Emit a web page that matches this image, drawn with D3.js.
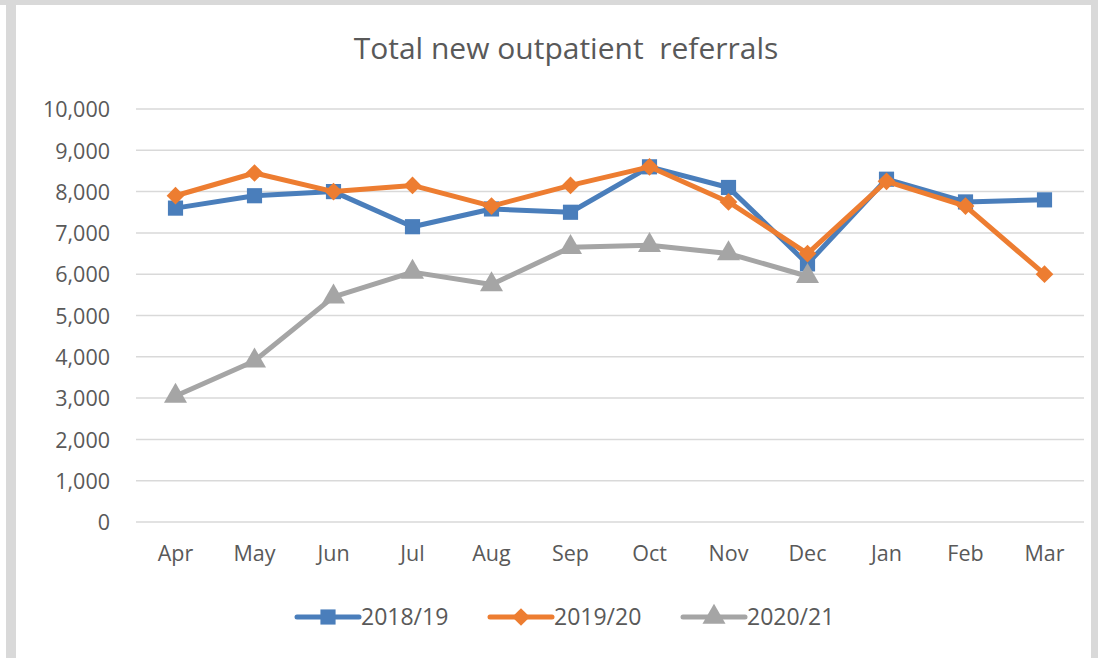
<!DOCTYPE html>
<html>
<head>
<meta charset="utf-8">
<script src="https://cdn.jsdelivr.net/npm/d3@7"></script>
<style>
  body { margin: 0; background: #fff; }
  text { font-family: "Open Sans", "Liberation Sans", sans-serif; fill: #595959; }
</style>
</head>
<body>
<div id="chart"></div>
<script>
//chart data
var months = ["Apr", "May", "Jun", "Jul", "Aug", "Sep", "Oct", "Nov", "Dec", "Jan", "Feb", "Mar"];
var seriesNames = ["2018/19", "2019/20", "2020/21"];
var values1819 = [7600, 7900, 8000, 7150, 7580, 7500, 8600, 8100, 6250, 8300, 7750, 7800];
var values1920 = [7900, 8450, 8000, 8150, 7650, 8150, 8600, 7750, 6500, 8250, 7650, 6000];
var values2021 = [3050, 3900, 5450, 6050, 5750, 6650, 6700, 6500, 5950, null, null, null];
var yTicks = [0, 1000, 2000, 3000, 4000, 5000, 6000, 7000, 8000, 9000, 10000];

var colors = ["#4a7ebb", "#ed7d31", "#a5a5a5"];
var symbols = [d3.symbolSquare, d3.symbolDiamond2, d3.symbolTriangle];
var symbolSizes = [230, 200, 230];

//svg size
var svgW = 1098;
var svgH = 658;

var margin = {top: 109, right: 14, bottom: 136, left: 136};
var width = svgW - margin.left - margin.right;
var height = svgH - margin.top - margin.bottom;

var svg = d3.select("#chart").append("svg")
    .attr("width", svgW)
    .attr("height", svgH);

//outer frame
svg.append("rect").attr("x", 0).attr("y", 0).attr("width", svgW).attr("height", 5).attr("fill", "#d9d9d9");
svg.append("rect").attr("x", 6).attr("y", 0).attr("width", 10).attr("height", svgH).attr("fill", "#d9d9d9");
svg.append("rect").attr("x", 1091).attr("y", 0).attr("width", 7).attr("height", svgH).attr("fill", "#d9d9d9");

//title
svg.append("text")
    .attr("x", 566)
    .attr("y", 59)
    .attr("text-anchor", "middle")
    .attr("font-size", "30px")
    .style("white-space", "pre")
    .text("Total new outpatient  referrals");

var chartGroup = svg.append("g")
    .attr("transform", `translate(${margin.left}, ${margin.top})`);

//scales
var xScale = d3.scaleBand()
    .domain(months)
    .range([0, width]);

var yScale = d3.scaleLinear()
    .domain([0, 10000])
    .range([height, 0]);

//gridlines
chartGroup.append("g")
    .selectAll("line")
    .data(yTicks)
    .enter()
    .append("line")
    .attr("x1", 0)
    .attr("x2", width)
    .attr("y1", d => yScale(d))
    .attr("y2", d => yScale(d))
    .attr("stroke", "#d9d9d9")
    .attr("stroke-width", 1.5);

//y axis
var leftAxis = d3.axisLeft(yScale)
    .tickValues(yTicks)
    .tickFormat(d3.format(","))
    .tickSize(0)
    .tickPadding(26);

var yAxis = chartGroup.append("g").call(leftAxis);
yAxis.select(".domain").remove();
yAxis.selectAll("text").attr("font-size", "21.5px").attr("fill", "#595959").attr("font-family", null).attr("dy", "0.36em");

//x axis
var bottomAxis = d3.axisBottom(xScale).tickSize(0).tickPadding(24);
var xAxis = chartGroup.append("g")
    .attr("transform", `translate(0, ${height})`)
    .call(bottomAxis);
xAxis.select(".domain").remove();
xAxis.selectAll("text").attr("font-size", "21.5px").attr("fill", "#595959").attr("font-family", null);

//series
var allSeries = [values1819, values1920, values2021];

var line = d3.line()
    .defined(d => d != null)
    .x((d, i) => xScale(months[i]) + xScale.bandwidth() / 2)
    .y(d => yScale(d));

allSeries.forEach(function(vals, s) {
    chartGroup.append("path")
        .datum(vals)
        .attr("fill", "none")
        .attr("stroke", colors[s])
        .attr("stroke-width", 5)
        .attr("stroke-linejoin", "round")
        .attr("stroke-linecap", "round")
        .attr("d", line);

    chartGroup.selectAll(".mk" + s)
        .data(vals.map((v, i) => ({v: v, m: months[i]})).filter(d => d.v != null))
        .enter()
        .append("path")
        .attr("class", "mk" + s)
        .attr("transform", d => `translate(${xScale(d.m) + xScale.bandwidth() / 2}, ${yScale(d.v)})`)
        .attr("d", d3.symbol().type(symbols[s]).size(symbolSizes[s]))
        .attr("fill", colors[s]);
});

//legend
var legendX = [297, 490, 683];
var legend = svg.append("g");
seriesNames.forEach(function(name, s) {
    var g = legend.append("g").attr("transform", `translate(${legendX[s]}, 617)`);
    g.append("line")
        .attr("x1", 0).attr("x2", 62)
        .attr("stroke", colors[s])
        .attr("stroke-width", 5)
        .attr("stroke-linecap", "round");
    g.append("path")
        .attr("transform", "translate(31, 0)")
        .attr("d", d3.symbol().type(symbols[s]).size(symbolSizes[s]))
        .attr("fill", colors[s]);
    g.append("text")
        .attr("x", 64)
        .attr("dy", "0.36em")
        .attr("font-size", "23px")
        .text(name);
});
</script>
</body>
</html>
